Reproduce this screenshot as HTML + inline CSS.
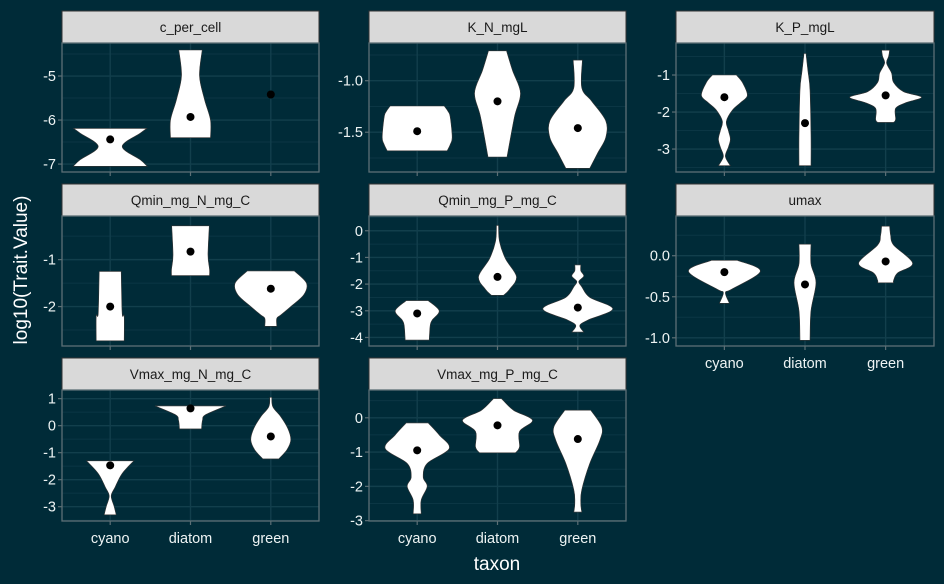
<!DOCTYPE html>
<html><head><meta charset="utf-8"><style>
html,body{margin:0;padding:0;background:#002b38;}
svg{display:block;font-family:"Liberation Sans",sans-serif;}
</style></head><body>
<svg id="chart" width="944" height="584" viewBox="0 0 944 584" xmlns="http://www.w3.org/2000/svg">
<rect x="0" y="0" width="944" height="584" fill="#002b38"/>
<text transform="translate(27,270) rotate(-90)" text-anchor="middle" fill="#ffffff" font-size="19">log10(Trait.Value)</text>
<text x="497" y="570" text-anchor="middle" fill="#ffffff" font-size="19">taxon</text>
</svg>
<script>
const categories = ["cyano","diatom","green"];
const titles = ["c_per_cell","K_N_mgL","K_P_mgL","Qmin_mg_N_mg_C","Qmin_mg_P_mg_C","umax","Vmax_mg_N_mg_C","Vmax_mg_P_mg_C"];
const yLimits = [[-7.18,-4.25],[-1.886,-0.634],[-3.62,-0.135],[-2.84,-0.071],[-4.32,0.553],[-1.10,0.484],[-3.53,1.32],[-3.01,0.81]];
const yTicks = [[-7,-6,-5],[-1.5,-1.0],[-3,-2,-1],[-2,-1],[-4,-3,-2,-1,0],[-1.0,-0.5,0.0],[-3,-2,-1,0,1],[-3,-2,-1,0]];
const yTickLabels = [["-7","-6","-5"],["-1.5","-1.0"],["-3","-2","-1"],["-2","-1"],["-4","-3","-2","-1","0"],["-1.0","-0.5","0.0"],["-3","-2","-1","0","1"],["-3","-2","-1","0"]];
const means = [[-6.44,-5.93,-5.42],[-1.49,-1.2,-1.46],[-1.6,-2.3,-1.55],[-2.0,-0.83,-1.62],[-3.1,-1.73,-2.88],[-0.2,-0.35,-0.07],[-1.47,0.64,-0.4],[-0.95,-0.22,-0.62]];
// violin profiles: [value, relative half-width density]
const violins = [
 [[[-6.19,36.7],[-6.3,30],[-6.6,12],[-6.9,30],[-7.05,37]], [[-4.41,11.7],[-5.0,9],[-5.53,14],[-6.0,20],[-6.4,20]], null],
 [[[-1.245,27],[-1.3,31],[-1.35,33],[-1.55,35],[-1.62,33],[-1.68,30]], [[-0.71,9],[-0.9,15],[-1.12,23],[-1.35,17],[-1.74,9.5]], [[-0.8,4.6],[-1.07,4],[-1.2,14],[-1.39,28],[-1.55,28],[-1.7,20],[-1.85,12]]],
 [[[-1.0,12],[-1.2,18],[-1.55,23],[-1.75,16],[-1.95,8],[-2.25,2],[-2.5,4],[-2.73,6],[-2.95,4],[-3.2,1],[-3.45,6]], [[-0.42,1],[-0.9,3],[-1.4,5],[-2.6,6],[-3.45,6]], [[-0.33,4],[-0.5,3],[-0.68,1],[-0.95,6],[-1.2,8],[-1.45,18],[-1.6,36],[-1.75,20],[-1.9,10],[-2.2,10],[-2.28,8]]],
 [[[-1.25,11],[-2.15,12],[-2.2,14],[-2.73,14]], [[-0.28,18.8],[-0.9,17.5],[-1.2,19],[-1.34,19]], [[-1.24,23.5],[-1.5,35.7],[-1.75,33],[-2.0,20],[-2.18,10],[-2.25,6],[-2.42,6]]],
 [[[-2.62,11],[-3.0,22],[-3.35,15],[-3.55,13],[-4.1,12]], [[0.2,1],[-0.4,2],[-1.05,8],[-1.72,19],[-2.2,12],[-2.42,6]], [[-1.28,3],[-1.5,3],[-1.7,6],[-1.9,1],[-2.1,4],[-2.5,12],[-2.93,35],[-3.35,10],[-3.55,2],[-3.8,6]]],
 [[[-0.056,13],[-0.19,36],[-0.41,7],[-0.45,1],[-0.58,5]], [[0.14,6],[-0.1,6],[-0.33,11],[-0.67,6],[-1.03,5]], [[0.36,4],[0.25,5],[0.13,8],[-0.09,27],[-0.21,12],[-0.3,8],[-0.33,8]]],
 [[[-1.3,23.7],[-1.77,12],[-2.27,5],[-2.6,1],[-3.0,4],[-3.3,6]], [[0.73,35.5],[0.4,15],[0.2,12],[-0.12,11]], [[1.05,1],[0.7,2],[0.33,10],[-0.1,17],[-0.53,20],[-0.9,16],[-1.23,8]]],
 [[[-0.15,11],[-0.5,22],[-0.9,32],[-1.33,10],[-1.73,6],[-2.0,10],[-2.4,4],[-2.8,4]], [[0.56,4],[0.22,16],[-0.07,35],[-0.4,22],[-0.85,22],[-1.02,18]], [[0.22,13],[-0.27,24],[-0.66,22],[-1.33,12],[-2.1,4],[-2.5,3],[-2.75,4]]]
];
// layout (not data)
const colX = [[62,319],[369,626],[676,934]];
const rowY = [[11,43,172],[184,216,346],[358,390,521]];
const showX = [false,false,false,false,false,true,true,true];

const NS="http://www.w3.org/2000/svg";
const svg=document.getElementById('chart');
function mk(tag,attrs,parent){const e=document.createElementNS(NS,tag);for(const k in attrs)e.setAttribute(k,attrs[k]);(parent||svg).appendChild(e);return e;}
function smoothSide(pts){ // pts: [x,y] list, returns path segments with catmull-rom
  let d='';
  for(let i=0;i<pts.length-1;i++){
    const p0=pts[Math.max(0,i-1)],p1=pts[i],p2=pts[i+1],p3=pts[Math.min(pts.length-1,i+2)];
    const c1=[p1[0]+(p2[0]-p0[0])/6,p1[1]+(p2[1]-p0[1])/6];
    const c2=[p2[0]-(p3[0]-p1[0])/6,p2[1]-(p3[1]-p1[1])/6];
    d+=' C'+c1[0].toFixed(1)+','+c1[1].toFixed(1)+' '+c2[0].toFixed(1)+','+c2[1].toFixed(1)+' '+p2[0].toFixed(1)+','+p2[1].toFixed(1);
  }
  return d;
}

titles.forEach((title,p)=>{
  const c=p%3, r=Math.floor(p/3);
  const x0=colX[c][0], x1=colX[c][1], sy=rowY[r][0], y0=rowY[r][1], y1=rowY[r][2];
  const lim=yLimits[p];
  const yS=v=>y1-(v-lim[0])/(lim[1]-lim[0])*(y1-y0);
  const xS=i=>x0+(i+0.6)/3.2*(x1-x0);
  const g=mk('g',{});
  
  
  const strip=mk('rect',{x:x0,y:sy,width:x1-x0,height:y0-sy,fill:'#d9d9d9',stroke:'#333','stroke-width':1},g);
  
  
  const st=mk('text',{x:(x0+x1)/2,y:(sy+y0)/2+5,'text-anchor':'middle','font-size':13.5,fill:'#1a1a1a'},g);
  st.textContent=title;
  
  
  const t=yTicks[p];
  const d=t.length>1?t[1]-t[0]:1;
  for(let v=t[0]-d/2; v<=lim[1]; v+=d){ if(v>=lim[0]){const l=mk('line',{x1:x0,x2:x1,y1:yS(v),y2:yS(v),stroke:'#0b3644','stroke-width':1},g);
    
    }}
  t.forEach((v,i)=>{
    const l=mk('line',{x1:x0,x2:x1,y1:yS(v),y2:yS(v),stroke:'#123f4c','stroke-width':1.4},g);
    
    
    mk('line',{x1:x0-4,x2:x0,y1:yS(v),y2:yS(v),stroke:'#5c6f75','stroke-width':1.2},g);
    const tl=mk('text',{x:x0-6,y:yS(v)+5,'text-anchor':'end','font-size':14.5,fill:'#eef4f4'},g);
    tl.textContent=yTickLabels[p][i];
    
    
  });
  categories.forEach((cat,i)=>{
    const l=mk('line',{x1:xS(i),x2:xS(i),y1:y0,y2:y1,stroke:'#123f4c','stroke-width':1.4},g);
    
    
    mk('line',{x1:xS(i),x2:xS(i),y1:y1,y2:y1+4,stroke:'#5c6f75','stroke-width':1.2},g);
    if(showX[p]){
      const xl=mk('text',{x:xS(i),y:y1+22,'text-anchor':'middle','font-size':14.5,fill:'#eef4f4'},g);
      xl.textContent=cat;
      
      
    }
  });
  const border=mk('rect',{x:x0,y:y0,width:x1-x0,height:y1-y0,fill:'none',stroke:'#5c6f75','stroke-width':1.3},g);
  
  
  categories.forEach((cat,i)=>{
    const prof=violins[p][i];
    const cx=xS(i);
    if(prof){
      const R=prof.map(q=>[cx+q[1],yS(q[0])]);
      const L=prof.slice().reverse().map(q=>[cx-q[1],yS(q[0])]);
      const dpath='M'+R[0][0].toFixed(1)+','+R[0][1].toFixed(1)+smoothSide(R)+' L'+L[0][0].toFixed(1)+','+L[0][1].toFixed(1)+smoothSide(L)+' Z';
      const v=mk('path',{d:dpath,fill:'#ffffff',stroke:'#333','stroke-width':0.6},g);
      
      
    }
    const m=mk('circle',{cx:cx,cy:yS(means[p][i]),r:4,fill:'#000'},g);
    
    
  });
});
</script>
</body></html>
